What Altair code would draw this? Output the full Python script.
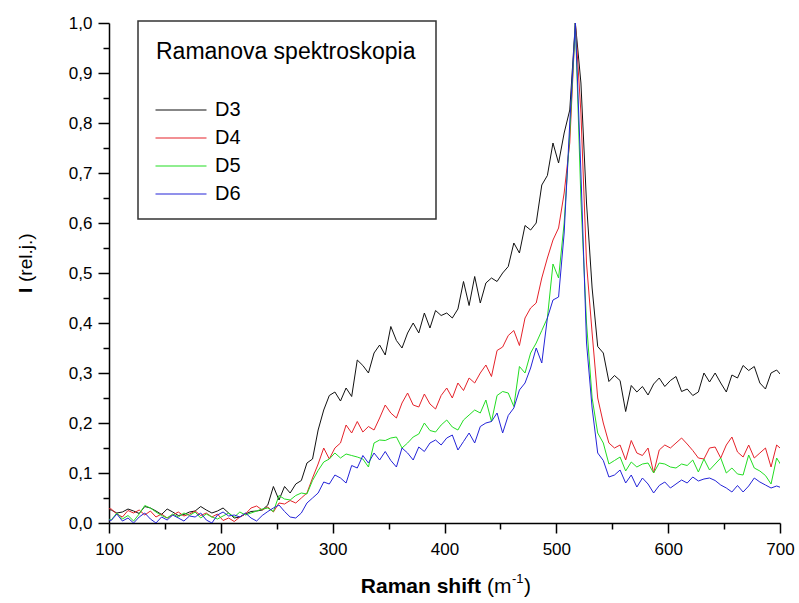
import altair as alt
import pandas as pd

# Raman shift grid (m^-1)
shift = list(range(97, 703, 5))

D3 = [0.028, 0.026, 0.020, 0.022, 0.028, 0.024, 0.019, 0.033, 0.030, 0.024,
      0.017, 0.028, 0.022, 0.015, 0.017, 0.022, 0.024, 0.033, 0.026, 0.020,
      0.024, 0.030, 0.020, 0.010, 0.012, 0.018, 0.023, 0.024, 0.026, 0.036,
      0.073, 0.046, 0.073, 0.060, 0.078, 0.085, 0.120, 0.128, 0.186, 0.226,
      0.255, 0.262, 0.244, 0.270, 0.253, 0.326, 0.315, 0.300, 0.340, 0.356,
      0.336, 0.393, 0.365, 0.350, 0.380, 0.400, 0.380, 0.420, 0.390, 0.425,
      0.415, 0.420, 0.410, 0.428, 0.483, 0.435, 0.493, 0.440, 0.480, 0.490,
      0.483, 0.500, 0.513, 0.560, 0.540, 0.595, 0.586, 0.600, 0.676, 0.695,
      0.760, 0.720, 0.780, 0.826, 1.000, 0.880, 0.640, 0.470, 0.353, 0.340,
      0.283, 0.295, 0.285, 0.223, 0.275, 0.262, 0.273, 0.256, 0.278, 0.290,
      0.273, 0.285, 0.293, 0.263, 0.268, 0.255, 0.262, 0.300, 0.282, 0.300,
      0.280, 0.262, 0.296, 0.290, 0.315, 0.305, 0.313, 0.280, 0.268, 0.300,
      0.306, 0.293]

D4 = [0.030, 0.028, 0.018, 0.012, 0.025, 0.020, 0.026, 0.016, 0.024, 0.012,
      0.018, 0.010, 0.016, 0.022, 0.014, 0.018, 0.024, 0.015, 0.020, 0.012,
      0.018, 0.005, 0.010, 0.003, 0.012, 0.018, 0.030, 0.034, 0.026, 0.032,
      0.022, 0.040, 0.038, 0.045, 0.040, 0.050, 0.060, 0.090, 0.118, 0.150,
      0.128, 0.150, 0.160, 0.196, 0.180, 0.203, 0.182, 0.193, 0.186, 0.210,
      0.236, 0.220, 0.210, 0.240, 0.260, 0.236, 0.232, 0.258, 0.238, 0.228,
      0.255, 0.270, 0.250, 0.280, 0.265, 0.290, 0.280, 0.300, 0.316, 0.293,
      0.345, 0.352, 0.375, 0.385, 0.355, 0.410, 0.430, 0.440, 0.490, 0.530,
      0.566, 0.590, 0.660, 0.760, 1.000, 0.820, 0.520, 0.380, 0.250, 0.200,
      0.160, 0.150, 0.156, 0.126, 0.165, 0.140, 0.135, 0.150, 0.100, 0.146,
      0.156, 0.150, 0.160, 0.170, 0.158, 0.145, 0.130, 0.128, 0.150, 0.152,
      0.130, 0.156, 0.172, 0.142, 0.132, 0.156, 0.130, 0.140, 0.150, 0.112,
      0.156, 0.146]

D5 = [0.010, 0.006, 0.020, 0.008, 0.015, 0.004, 0.018, 0.035, 0.030, 0.022,
      0.015, 0.010, 0.018, 0.012, 0.020, 0.015, 0.022, 0.010, 0.018, 0.012,
      0.008, 0.014, 0.020, 0.012, 0.022, 0.016, 0.020, 0.024, 0.028, 0.030,
      0.023, 0.055, 0.048, 0.046, 0.055, 0.060, 0.058, 0.085, 0.105, 0.122,
      0.128, 0.140, 0.130, 0.138, 0.135, 0.132, 0.128, 0.112, 0.160, 0.166,
      0.165, 0.170, 0.172, 0.150, 0.160, 0.172, 0.178, 0.200, 0.185, 0.182,
      0.196, 0.206, 0.192, 0.186, 0.206, 0.216, 0.226, 0.220, 0.246, 0.203,
      0.255, 0.263, 0.260, 0.233, 0.313, 0.300, 0.340, 0.360, 0.385, 0.410,
      0.518, 0.490, 0.600, 0.780, 1.000, 0.646, 0.400, 0.250, 0.180, 0.160,
      0.118, 0.125, 0.132, 0.104, 0.122, 0.112, 0.118, 0.120, 0.100, 0.120,
      0.118, 0.112, 0.110, 0.118, 0.115, 0.126, 0.102, 0.128, 0.106, 0.118,
      0.130, 0.100, 0.110, 0.098, 0.096, 0.136, 0.110, 0.104, 0.095, 0.078,
      0.130, 0.112]

D6 = [0.008, 0.005, 0.018, 0.004, 0.010, 0.000, 0.012, 0.020, 0.008, 0.000,
      0.012, 0.006, 0.016, 0.010, 0.004, 0.014, 0.012, 0.020, 0.006, 0.000,
      0.016, 0.022, 0.014, 0.016, 0.012, 0.020, 0.010, 0.004, 0.015, 0.023,
      0.030, 0.036, 0.023, 0.012, 0.010, 0.020, 0.040, 0.050, 0.060, 0.082,
      0.078, 0.096, 0.090, 0.080, 0.115, 0.110, 0.135, 0.120, 0.140, 0.126,
      0.143, 0.125, 0.112, 0.150, 0.140, 0.126, 0.152, 0.143, 0.160, 0.166,
      0.156, 0.170, 0.176, 0.146, 0.163, 0.180, 0.160, 0.193, 0.200, 0.203,
      0.220, 0.180, 0.215, 0.230, 0.266, 0.280, 0.310, 0.350, 0.320, 0.410,
      0.446, 0.452, 0.580, 0.800, 1.000, 0.700, 0.360, 0.230, 0.140, 0.125,
      0.092, 0.096, 0.106, 0.080, 0.096, 0.072, 0.090, 0.078, 0.060, 0.075,
      0.082, 0.070, 0.078, 0.086, 0.080, 0.092, 0.084, 0.088, 0.090, 0.085,
      0.076, 0.070, 0.062, 0.075, 0.062, 0.074, 0.090, 0.082, 0.076, 0.070,
      0.074, 0.070]

series_names = ["D3", "D4", "D5", "D6"]
series_colors = ["#111111", "#e5222a", "#22dd22", "#2424d8"]

x_ticks = [100, 150, 200, 250, 300, 350, 400, 450, 500, 550, 600, 650, 700]
y_ticks = [0.0, 0.05, 0.1, 0.15, 0.2, 0.25, 0.3, 0.35, 0.4, 0.45, 0.5,
           0.55, 0.6, 0.65, 0.7, 0.75, 0.8, 0.85, 0.9, 0.95, 1.0]

rows = []
for name, vals in zip(series_names, [D3, D4, D5, D6]):
    assert len(vals) == len(shift), (name, len(vals))
    for s, v in zip(shift, vals):
        rows.append({"shift": s, "I": v, "sample": name})
df = pd.DataFrame(rows)

FONT = "Liberation Sans"

lines = alt.Chart(df).mark_line(strokeWidth=1, clip=True).encode(
    x=alt.X(
        "shift:Q",
        scale=alt.Scale(domain=[100, 700], nice=False, zero=False),
        axis=alt.Axis(
            values=x_ticks,
            title=None,
            labelExpr="datum.value % 100 === 0 ? datum.label : ''",
            tickSize={"condition": {"test": "datum.value % 100 === 0", "value": 10}, "value": 6},
            labelOverlap=False,
            labelFlush=False,
            labelPadding=8,
        ),
    ),
    y=alt.Y(
        "I:Q",
        scale=alt.Scale(domain=[0, 1.0], nice=False, zero=False),
        axis=alt.Axis(
            values=y_ticks,
            title=None,
            labelExpr="round(datum.value * 100) % 10 === 0 ? replace(format(datum.value, '.1f'), '.', ',') : ''",
            tickSize={"condition": {"test": "round(datum.value * 100) % 10 === 0", "value": 11}, "value": 6},
            labelOverlap=False,
            labelFlush=False,
            labelPadding=6,
        ),
    ),
    color=alt.Color(
        "sample:N",
        scale=alt.Scale(domain=series_names, range=series_colors),
        legend=alt.Legend(
            title="Ramanova spektroskopia",
            orient="none",
            legendX=31,
            legendY=2,
            direction="vertical",
            symbolType="M-2.1,0H8.1",
            symbolSize=100,
            symbolStrokeWidth=1.2,
            labelOffset=39,
            rowPadding=8,
            titlePadding=36,
            titleLimit=500,
            padding=16,
        ),
    ),
)

# frame drawn behind the legend entries
legend_frame = alt.Chart(pd.DataFrame({"f": [0]})).mark_rect(
    fill="white", stroke="#333333", strokeWidth=1.5,
).encode(x=alt.value(29), x2=alt.value(327), y=alt.value(-2), y2=alt.value(196))


def label(text, x, y, size, weight="normal", angle=0, align="left"):
    return alt.Chart(pd.DataFrame({"t": [text]})).mark_text(
        text=text, font=FONT, fontSize=size, fontWeight=weight, angle=angle,
        align=align, baseline="alphabetic", color="#000000",
    ).encode(x=alt.value(x), y=alt.value(y))


titles = [
    label("Raman shift", 372, 570, 21, weight="bold", align="right"),
    label("(m", 378, 570, 21),
    label("-1", 403, 560, 13),
    label(")", 415, 570, 21),
    label("I", -77, 270, 19, weight="bold", angle=270),
    label("(rel.j.)", -77, 259, 19, angle=270),
]

chart = alt.layer(legend_frame, lines, *titles).properties(
    width=671,
    height=500,
    autosize=alt.AutoSizeParams(type="none"),
    padding={"left": 109, "top": 23, "right": 19, "bottom": 80},
    background="white",
).configure_view(
    stroke="transparent",
).configure_axis(
    domainColor="#000000",
    domainWidth=1.5,
    tickColor="#000000",
    tickWidth=1.5,
    labelFont=FONT,
    labelFontSize=17,
    labelColor="#000000",
    grid=False,
).configure_legend(
    titleFont=FONT,
    titleFontSize=23,
    titleFontWeight="normal",
    titleColor="#000000",
    labelFont=FONT,
    labelFontSize=20,
    labelColor="#000000",
    strokeColor="transparent",
    fillColor="transparent",
    cornerRadius=0,
)

chart.save("out.html", embed_options={"renderer": "svg", "actions": False})
